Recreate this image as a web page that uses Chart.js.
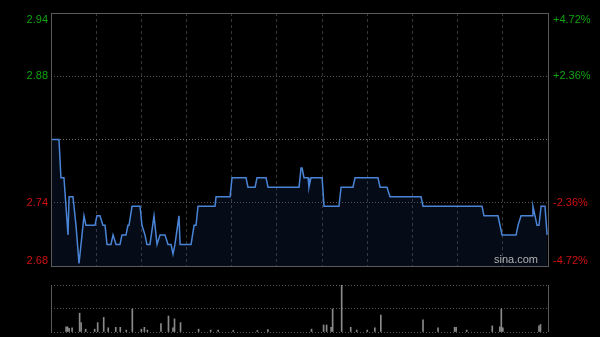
<!DOCTYPE html>
<html>
<head>
<meta charset="utf-8">
<script src="https://cdn.jsdelivr.net/npm/chart.js@4.4.1/dist/chart.umd.min.js"></script>
<style>
  html, body { margin: 0; padding: 0; background: #000; }
  #wrap { position: relative; width: 600px; height: 337px; background: #000; }
  #priceBox { position: absolute; left: 0; top: 0; width: 600px; height: 280px; }
  #volBox { position: absolute; left: 0; top: 280px; width: 600px; height: 57px; }
</style>
</head>
<body>
<div id="wrap">
  <div id="priceBox"><canvas id="priceChart"></canvas></div>
  <div id="volBox"><canvas id="volChart"></canvas></div>
</div>
<script>
// --- datos (minutos desde 9:30, sesion HK de 330 min) ---
const prevClose = 2.81;
const priceMinutes = [0,5.3,6.6,8.6,11.3,12,14.6,16.6,18.6,21.9,23.2,29.2,30.5,32.5,34.5,35.9,37.2,39.8,41.2,41.8,
  43.2,45.8,47.1,49.8,51.1,51.8,53.8,59.1,60.4,62.4,63.7,65.7,68.4,70.4,72.4,75.7,77.7,79.7,81,82.3,
  85,85.7,93,95,96.3,97.6,108.9,109.6,118.9,120.2,129.5,130.8,135.5,136.8,142.8,144.1,164.7,166,166.7,168,
  170.7,171.3,172.6,180,181.3,191.2,192.6,200.5,201.9,217.1,218.5,223.1,225.1,245.7,247,286.2,287.5,296.8,299.5,308.8,
  310.1,312.1,319.4,320,321.4,322.7,324,325.4,328,329.4];
const prices = [2.81,2.81,2.77,2.77,2.71,2.75,2.75,2.72,2.68,2.73,2.72,2.72,2.73,2.73,2.72,2.72,2.70,2.70,2.71,2.71,
  2.70,2.70,2.71,2.71,2.72,2.72,2.74,2.74,2.72,2.71,2.70,2.70,2.73,2.70,2.71,2.71,2.70,2.70,2.69,2.70,
  2.73,2.70,2.70,2.72,2.72,2.74,2.74,2.75,2.75,2.77,2.77,2.76,2.76,2.77,2.77,2.76,2.76,2.78,2.78,2.77,
  2.77,2.76,2.77,2.77,2.74,2.74,2.76,2.76,2.77,2.77,2.76,2.76,2.75,2.75,2.74,2.74,2.73,2.73,2.71,2.71,
  2.72,2.73,2.73,2.74,2.73,2.72,2.72,2.74,2.74,2.71];

const volMinutes = [10,11,12,14,19,20,23,29,31,35,38,43,46,50,54,60,62,64,73,78,81,82,86,98,106,111,121,137,144,
  173,181,183,186,187,193,199,203,210,215,219,247,257,268,269,276,293,298,299,300,324,325];
const volumes = [11,11,8,9,40,20,6,6,20,31,9,10,10,4,49,6,10,4,18,34,9,28,20,6,4,4,3,3,5,
  6,15,15,10,49,100,10,4,4,9,36,26,9,10,10,4,13,11,49,9,13,16];

// etiquetas de los ejes
const leftLabels = ['2.94', '2.88', '', '2.74', '2.68'];
const rightLabels = ['+4.72%', '+2.36%', '', '-2.36%', '-4.72%'];
const pctRange = 0.0472;

const yMin = prevClose * (1 - pctRange);
const yMax = prevClose * (1 + pctRange);
const yTicks = [yMax, prevClose * (1 + pctRange / 2), prevClose, prevClose * (1 - pctRange / 2), yMin];

const FUENTE = '11px "Liberation Sans", Arial, sans-serif';

// --- plugin: marco, etiquetas y marca de agua ---
const marcoPrecio = {
    id: 'marcoPrecio',
    afterDraw(chart) {
        const ctx = chart.ctx;
        const a = chart.chartArea;
        const y = chart.scales.y;
        ctx.save();
        ctx.strokeStyle = '#5a5a5a';
        ctx.lineWidth = 1;
        ctx.strokeRect(Math.round(a.left) + 0.5, Math.round(a.top) + 0.5,
            Math.round(a.right - a.left), Math.round(a.bottom - a.top));

        ctx.font = FUENTE;
        yTicks.forEach((v, i) => {
            if (!leftLabels[i]) return;
            const py = y.getPixelForValue(v);
            ctx.fillStyle = i < 2 ? '#0fa30f' : '#d01010';
            ctx.textBaseline = i === 0 ? 'top' : (i === yTicks.length - 1 ? 'bottom' : 'middle');
            const dy = i === 0 ? 1 : (i === yTicks.length - 1 ? 0 : 0);
            ctx.textAlign = 'right';
            ctx.fillText(leftLabels[i], a.left - 3, py + dy);
            ctx.textAlign = 'left';
            ctx.fillText(rightLabels[i], a.right + 5, py + dy);
        });

        ctx.fillStyle = '#b0b0b0';
        ctx.textAlign = 'right';
        ctx.textBaseline = 'bottom';
        ctx.fillText('sina.com', a.right - 10, a.bottom - 1);
        ctx.restore();
    }
};

const marcoVolumen = {
    id: 'marcoVolumen',
    afterDraw(chart) {
        const ctx = chart.ctx;
        const a = chart.chartArea;
        ctx.save();
        ctx.strokeStyle = '#5a5a5a';
        ctx.lineWidth = 1;
        ctx.beginPath();
        ctx.moveTo(Math.round(a.left) + 0.5, a.top);
        ctx.lineTo(Math.round(a.left) + 0.5, a.bottom);
        ctx.moveTo(Math.round(a.right) + 0.5, a.top);
        ctx.lineTo(Math.round(a.right) + 0.5, a.bottom);
        ctx.stroke();
        ctx.restore();
    }
};

function sinEjes(scale) { scale.width = 0; scale.height = 0; }

// --- grafico de precio ---
new Chart(document.getElementById('priceChart'), {
    type: 'line',
    data: {
        datasets: [{
            data: priceMinutes.map((m, i) => ({ x: m, y: prices[i] })),
            borderColor: '#4a84d6',
            borderWidth: 1.5,
            backgroundColor: 'rgba(45, 85, 160, 0.14)',
            fill: 'start',
            pointRadius: 0,
            tension: 0
        }]
    },
    options: {
        responsive: true,
        maintainAspectRatio: false,
        animation: false,
        layout: { padding: { left: 51, right: 52, top: 13, bottom: 14 } },
        plugins: { legend: { display: false }, tooltip: { enabled: false } },
        scales: {
            x: {
                type: 'linear', min: 0, max: 330,
                afterFit: sinEjes,
                ticks: { display: false, stepSize: 30 },
                afterBuildTicks: s => { s.ticks = []; for (let m = 30; m < 330; m += 30) s.ticks.push({ value: m }); },
                grid: { color: '#363636', drawTicks: false },
                border: { display: false, dash: [3, 3] }
            },
            y: {
                min: yMin, max: yMax,
                afterFit: sinEjes,
                afterBuildTicks: s => { s.ticks = yTicks.slice(1, 4).map(v => ({ value: v })); },
                ticks: { display: false },
                grid: {
                    color: ctx => ctx.index === 1 ? '#707070' : '#555555',
                    drawTicks: false
                },
                border: { display: false, dash: [1, 2] }
            }
        }
    },
    plugins: [marcoPrecio]
});

// --- grafico de volumen ---
new Chart(document.getElementById('volChart'), {
    type: 'bar',
    data: {
        datasets: [{
            data: volMinutes.map((m, i) => ({ x: m, y: volumes[i] })),
            backgroundColor: '#8a8a8a',
            barThickness: 1,
            grouped: false
        }]
    },
    options: {
        responsive: true,
        maintainAspectRatio: false,
        animation: false,
        layout: { padding: { left: 51, right: 52, top: 5, bottom: 5 } },
        plugins: { legend: { display: false }, tooltip: { enabled: false } },
        scales: {
            x: {
                type: 'linear', min: 0, max: 330,
                offset: false,
                afterFit: sinEjes,
                ticks: { display: false },
                grid: { display: false },
                border: { display: false }
            },
            y: {
                min: 0, max: 100,
                afterFit: sinEjes,
                afterBuildTicks: s => { s.ticks = [0, 50, 100].map(v => ({ value: v })); },
                ticks: { display: false },
                grid: { color: '#5a5a5a', drawTicks: false },
                border: { display: false, dash: [1, 2] }
            }
        }
    },
    plugins: [marcoVolumen]
});
</script>
</body>
</html>
